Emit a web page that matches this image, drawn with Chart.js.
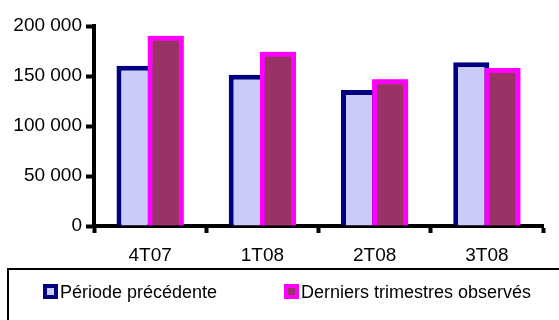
<!DOCTYPE html>
<html>
<head>
<meta charset="utf-8">
<script src="https://cdn.jsdelivr.net/npm/chart.js@4"></script>
<style>
  html, body { margin: 0; padding: 0; background: #ffffff; }
  canvas { display: block; }
</style>
</head>
<body>
<canvas id="chart" width="559" height="320"></canvas>
<script>
// Quarters shown on the horizontal axis
const quarters = ['4T07', '1T08', '2T08', '3T08'];
// Values for the previous period and the last observed quarters
const previousPeriod = [160300, 151300, 136000, 163700];
const lastQuarters = [190300, 174300, 146700, 158000];
// Vertical axis ticks
const yTicks = [0, 50000, 100000, 150000, 200000];

const seriesNames = ['Période précédente', 'Derniers trimestres observés'];

const FAMILY = '"Liberation Sans", Arial, sans-serif';
const TICK_FONT = { family: FAMILY, size: 19 };
const LEGEND_FONT_SIZE = 18;

function formatThousands(v) {
  return String(v).replace(/\B(?=(\d{3})+(?!\d))/g, ' ');
}

// Chart.js paints the first dataset last; paint the second series again
// so its bars sit over the right edge of the first series' bars.
const secondSeriesOnTop = {
  id: 'secondSeriesOnTop',
  afterDatasetsDraw(chart) {
    const meta = chart.getDatasetMeta(1);
    if (meta && meta.visible) meta.controller.draw();
  }
};

// Framed legend below the plot, with square swatches
const boxedLegend = {
  id: 'boxedLegend',
  afterDraw(chart) {
    const ctx = chart.ctx;
    ctx.save();
    ctx.strokeStyle = '#000000';
    ctx.lineWidth = 2;
    ctx.strokeRect(8, 269, 600, 100);

    const itemX = [43, 284];
    const top = 284;
    const size = 15;
    const bw = 4;
    chart.data.datasets.forEach((ds, i) => {
      const x = itemX[i];
      ctx.fillStyle = ds.borderColor;
      ctx.fillRect(x, top, size, size);
      ctx.fillStyle = ds.backgroundColor;
      ctx.fillRect(x + bw, top + bw, size - 2 * bw, size - 2 * bw);
      ctx.fillStyle = '#000000';
      ctx.font = LEGEND_FONT_SIZE + 'px ' + FAMILY;
      ctx.textBaseline = 'alphabetic';
      ctx.textAlign = 'left';
      ctx.fillText(ds.label, x + size + 2, top + 14);
    });
    ctx.restore();
  }
};

new Chart(document.getElementById('chart'), {
  type: 'bar',
  data: {
    labels: quarters,
    datasets: [
      {
        label: seriesNames[0],
        data: previousPeriod,
        backgroundColor: '#cbcbf9',
        borderColor: '#000080',
        borderWidth: 5,
        borderSkipped: 'start'
      },
      {
        label: seriesNames[1],
        data: lastQuarters,
        backgroundColor: '#993366',
        borderColor: '#ff00ff',
        borderWidth: 5,
        borderSkipped: 'start'
      }
    ]
  },
  options: {
    responsive: false,
    devicePixelRatio: 1,
    animation: false,
    // the second bar of each pair overlaps the right edge of the first
    categoryPercentage: 0.555,
    barPercentage: 1.16,
    layout: { padding: { left: 0, right: 16, top: 26, bottom: 54 } },
    plugins: {
      legend: { display: false },
      tooltip: { enabled: false }
    },
    scales: {
      x: {
        offset: true,
        grid: {
          offset: true,
          drawOnChartArea: false,
          drawTicks: true,
          tickLength: 7,
          tickWidth: 4,
          tickColor: '#000000'
        },
        border: { display: true, width: 4, color: '#000000' },
        ticks: { color: '#000000', font: TICK_FONT, padding: 11 },
        afterFit(scale) { scale.height = 40; }
      },
      y: {
        min: yTicks[0],
        max: yTicks[yTicks.length - 1],
        afterBuildTicks(scale) {
          scale.ticks = yTicks.map(v => ({ value: v }));
        },
        grid: {
          drawOnChartArea: false,
          drawTicks: true,
          tickLength: 8,
          tickWidth: 4,
          tickColor: '#000000'
        },
        border: { display: true, width: 4, color: '#000000' },
        ticks: {
          color: '#000000',
          font: TICK_FONT,
          padding: 4,
          callback: v => formatThousands(v)
        },
        afterFit(scale) { scale.width = 94; }
      }
    }
  },
  plugins: [secondSeriesOnTop, boxedLegend]
});
</script>
</body>
</html>
